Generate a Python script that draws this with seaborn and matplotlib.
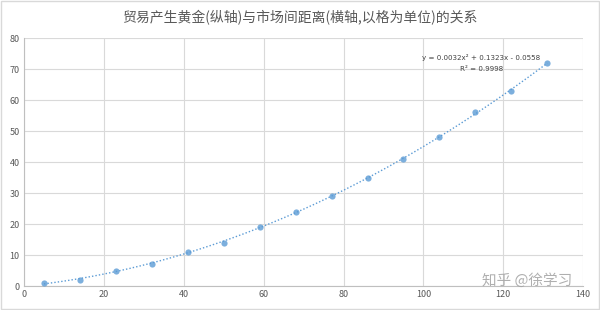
import matplotlib
matplotlib.use("Agg")
import matplotlib.pyplot as plt
import seaborn as sns
import pandas as pd
from matplotlib.patches import Rectangle

distance = [5, 14, 23, 32, 41, 50, 59, 68, 77, 86, 95, 104, 113, 122, 131]
gold = [1, 2, 5, 7, 11, 14, 19, 24, 29, 35, 41, 48, 56, 63, 72]
x_ticks = [0, 20, 40, 60, 80, 100, 120, 140]
y_ticks = [0, 10, 20, 30, 40, 50, 60, 70, 80]
title = "贸易产生黄金(纵轴)与市场间距离(横轴,以格为单位)的关系"
eq_text = "y = 0.0032x² + 0.1323x - 0.0558"
r2_text = "R² = 0.9998"
watermark = "知乎 @徐学习"

df = pd.DataFrame({"distance": distance, "gold": gold})

sns.set_theme(style="white")
plt.rcParams['font.family'] = ['Noto Sans CJK SC', 'DejaVu Sans']

fig = plt.figure(figsize=(6, 3.1), dpi=100)
ax = fig.add_axes([0.04, 0.0774, 0.932, 0.80])

blue = "#5B9BD5"
grey_txt = "#595959"

sns.regplot(data=df, x="distance", y="gold", order=2, ci=None, ax=ax,
            scatter_kws=dict(s=20, color=blue, edgecolor=blue, linewidths=0, zorder=3),
            line_kws=dict(color=blue, linestyle=(0, (1, 1.5)), linewidth=1.0, zorder=2))

ax.set_xlim(0, 140)
ax.set_ylim(0, 80)
ax.set_xticks(x_ticks)
ax.set_yticks(y_ticks)
ax.tick_params(axis='both', labelsize=6.5, labelcolor=grey_txt, length=0, pad=3)
ax.set_xlabel("")
ax.set_ylabel("")
ax.grid(True, color="#D9D9D9", linewidth=0.8)
ax.set_axisbelow(True)
for s in ["top", "right"]:
    ax.spines[s].set_visible(False)
for s in ["left", "bottom"]:
    ax.spines[s].set_color("#BFBFBF")
    ax.spines[s].set_linewidth(0.8)

fig.text(0.5, 0.942, title, ha="center", va="center", fontsize=10, color=grey_txt)
fig.text(0.802, 0.816, eq_text, ha="center", va="center",
         fontsize=5.1, color="#404040", family=['DejaVu Sans'])
fig.text(0.802, 0.777, r2_text, ha="center", va="center",
         fontsize=5.1, color="#404040", family=['DejaVu Sans'])
fig.text(0.878, 0.094, watermark, ha="center", va="center", fontsize=10.5,
         color="#A6A6A6", alpha=0.9)

fig.patches.append(Rectangle((0.002, 0.003), 0.996, 0.994, transform=fig.transFigure,
                             fill=False, edgecolor="#D9D9D9", linewidth=1.0))

fig.savefig("out.png", dpi=100)
